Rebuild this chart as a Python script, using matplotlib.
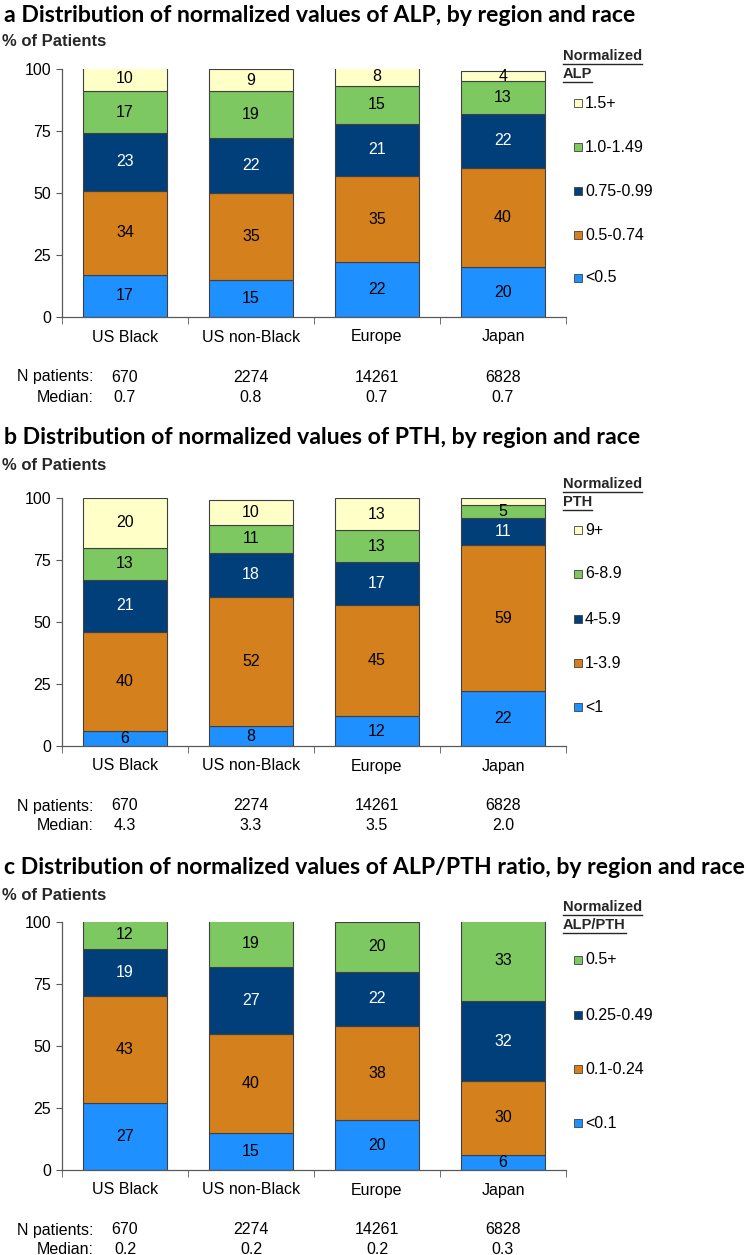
import matplotlib
matplotlib.use("Agg")
import matplotlib.pyplot as plt
from matplotlib.patches import Rectangle
from matplotlib.lines import Line2D

plt.rcParams['font.family'] = ['Liberation Sans', 'DejaVu Sans']

regions = ['US Black', 'US non-Black', 'Europe', 'Japan']
n_patients = [670, 2274, 14261, 6828]

alp_cats = ['<0.5', '0.5-0.74', '0.75-0.99', '1.0-1.49', '1.5+']
alp_vals = [[17, 15, 22, 20],
            [34, 35, 35, 40],
            [23, 22, 21, 22],
            [17, 19, 15, 13],
            [10, 9, 8, 4]]
alp_median = ['0.7', '0.8', '0.7', '0.7']

pth_cats = ['<1', '1-3.9', '4-5.9', '6-8.9', '9+']
pth_vals = [[6, 8, 12, 22],
            [40, 52, 45, 59],
            [21, 18, 17, 11],
            [13, 11, 13, 5],
            [20, 10, 13, 3]]
pth_labels = [[6, 8, 12, 22],
              [40, 52, 45, 59],
              [21, 18, 17, 11],
              [13, 11, 13, 5],
              [20, 10, 13, None]]
pth_median = ['4.3', '3.3', '3.5', '2.0']

ratio_cats = ['<0.1', '0.1-0.24', '0.25-0.49', '0.5+']
ratio_vals = [[27, 15, 20, 6],
              [43, 40, 38, 30],
              [19, 27, 22, 32],
              [12, 19, 20, 33]]
ratio_median = ['0.2', '0.2', '0.2', '0.3']

colors5 = ['#1e90ff', '#d4801c', '#003f7a', '#7ec862', '#ffffc8']
colors4 = ['#1e90ff', '#d4801c', '#003f7a', '#7ec862']
text_cols = ['black', 'black', 'white', 'black', 'black']

W, H = 747, 1255
fig = plt.figure(figsize=(W / 100, H / 100), dpi=100)


def fx(x):
    return x / W


def fy(y):
    return 1 - y / H


def underlined(x, y, s):
    t = fig.text(fx(x), fy(y), s, fontsize=10.5, fontweight='bold', color='#262626',
                 ha='left', va='center')
    fig.canvas.draw()
    bb = t.get_window_extent().transformed(fig.transFigure.inverted())
    fig.add_artist(Line2D([bb.x0, bb.x1], [bb.y0 - 0.0008, bb.y0 - 0.0008],
                          transform=fig.transFigure, color='#262626', lw=1))


def panel(top, bottom, letter, title, title_y, pct_y, vals, labels, colors, cats,
          medians, leg_name, leg_y0, leg_ys):
    ax = fig.add_axes([fx(62), fy(bottom), fx(504), (bottom - top) / H])
    x = range(len(regions))
    base = [0] * len(regions)
    for i, row in enumerate(vals):
        ax.bar(x, row, 0.67, bottom=base, color=colors[i], edgecolor='#404040', lw=0.8)
        for j, v in enumerate(row):
            lab = labels[i][j]
            if lab is not None:
                ax.text(j, base[j] + v / 2, str(lab), ha='center', va='center',
                        fontsize=11.5, color=text_cols[i])
        base = [b + v for b, v in zip(base, row)]

    ax.set_xlim(-0.5, 3.5)
    ax.set_ylim(0, 100)
    ax.set_yticks([0, 25, 50, 75, 100])
    ax.tick_params(axis='y', labelsize=11.5, length=4, color='#595959', pad=4)
    ax.set_xticks(list(x))
    ax.set_xticklabels(regions, fontsize=11.5)
    ax.tick_params(axis='x', length=0, pad=9)
    ax.set_xticks([-0.5, 0.5, 1.5, 2.5, 3.5], minor=True)
    ax.tick_params(axis='x', which='minor', length=5, color='#595959')
    for s in ['top', 'right']:
        ax.spines[s].set_visible(False)
    for s in ['left', 'bottom']:
        ax.spines[s].set_color('#595959')
        ax.spines[s].set_linewidth(0.9)

    h = bottom - top
    tr = ax.get_xaxis_transform()
    ax.text(-0.25, -60 / h, 'N patients:', transform=tr, ha='right', va='center', fontsize=11.5)
    ax.text(-0.25, -80 / h, 'Median:', transform=tr, ha='right', va='center', fontsize=11.5)
    for j in x:
        ax.text(j, -60 / h, str(n_patients[j]), transform=tr,
                ha='center', va='center', fontsize=11.5)
        ax.text(j, -80 / h, medians[j], transform=tr,
                ha='center', va='center', fontsize=11.5)

    fig.text(fx(4), fy(title_y), letter + ' ' + title, fontsize=16.6, fontweight='bold',
             family=['Lato', 'DejaVu Sans'], ha='left', va='center')
    fig.text(fx(2), fy(pct_y), '% of Patients', fontsize=12, fontweight='bold',
             color='#262626', ha='left', va='center')

    underlined(563, leg_y0, 'Normalized')
    underlined(563, leg_y0 + 18, leg_name)
    for i, cy in enumerate(leg_ys):
        k = len(cats) - 1 - i
        fig.add_artist(Rectangle((fx(574), fy(cy + 4)), fx(8), 8 / H,
                                 transform=fig.transFigure, facecolor=colors[k],
                                 edgecolor='#404040', lw=0.6))
        fig.text(fx(585), fy(cy), cats[k], fontsize=11.5, ha='left', va='center')


panel(69, 317, 'a', 'Distribution of normalized values of ALP, by region and race',
      15, 41, alp_vals, alp_vals, colors5, alp_cats, alp_median, 'ALP',
      56, [103, 147, 191, 235, 278])
panel(498, 746, 'b', 'Distribution of normalized values of PTH, by region and race',
      438, 466, pth_vals, pth_labels, colors5, pth_cats, pth_median, 'PTH',
      484, [530, 574, 619, 663, 707])
panel(922, 1170, 'c', 'Distribution of normalized values of ALP/PTH ratio, by region and race',
      868, 895, ratio_vals, ratio_vals, colors4, ratio_cats, ratio_median, 'ALP/PTH',
      907, [960, 1015, 1069, 1123])

fig.savefig('out.png', dpi=100)
